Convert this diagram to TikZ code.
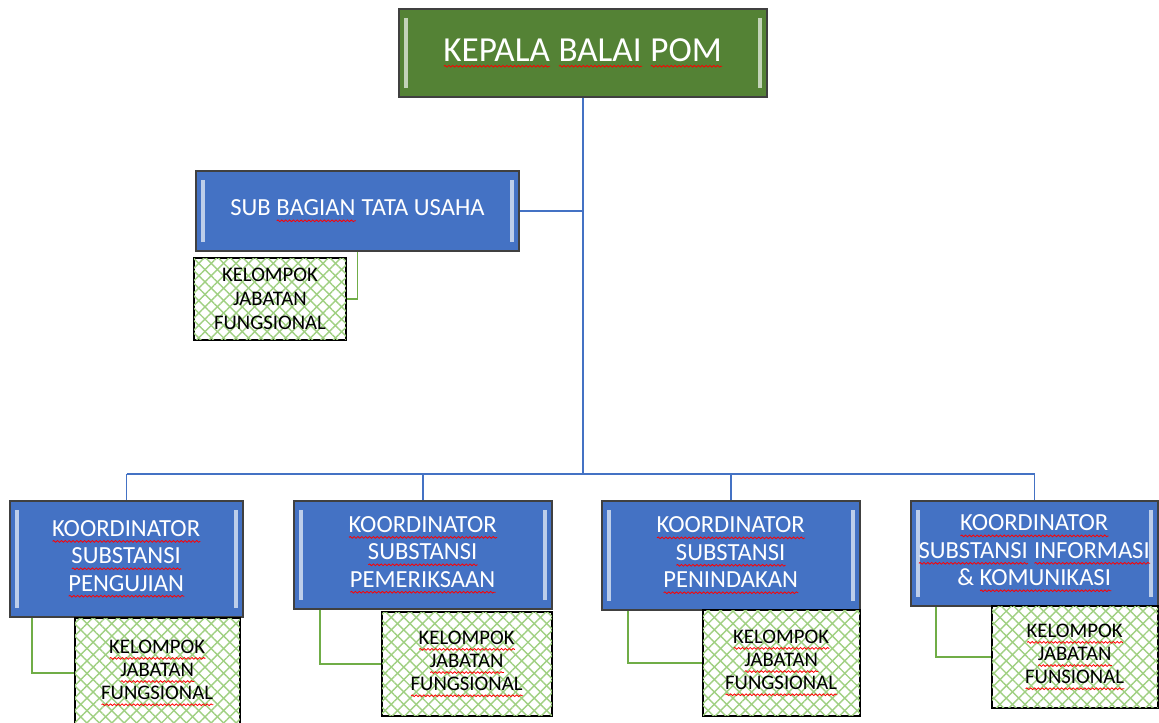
\documentclass[tikz,border=0pt]{standalone}
\usepackage{fontspec}
\setmainfont{Carlito}
\usepackage{tikz}
\usetikzlibrary{positioning,patterns.meta,calc,decorations.pathmorphing}

\definecolor{headgreen}{RGB}{84,130,53}
\definecolor{boxblue}{RGB}{68,114,196}
\definecolor{lineblue}{RGB}{68,114,196}
\definecolor{linegreen}{RGB}{112,173,71}
\definecolor{hatchgreen}{RGB}{160,208,130}

% red wavy spell-check underline
\newlength{\spellw}
\newcommand{\spell}[1]{\settowidth{\spellw}{#1}\leavevmode\rlap{#1}%
  \tikz[baseline=2.8pt]\draw[red, line width=0.45pt, decorate,
    decoration={snake,amplitude=0.5pt,segment length=2.2pt}] (0,0) -- (\spellw,0);}

\tikzset{
  box/.style={draw=black!75, line width=0.9pt, fill=#1, text=white, align=center, inner sep=0pt,
    path picture={
      \draw[line width=1.8pt, #1!35!white]
        ([xshift=4pt,yshift=5pt]path picture bounding box.south west) --
        ([xshift=4pt,yshift=-5pt]path picture bounding box.north west);
      \draw[line width=1.8pt, #1!35!white]
        ([xshift=-4pt,yshift=5pt]path picture bounding box.south east) --
        ([xshift=-4pt,yshift=-5pt]path picture bounding box.north east);
    }},
  kjf/.style={draw=black, line width=0.9pt, fill=white, text=black, align=center, inner sep=0pt,
    font=\fontsize{11.8}{13.2}\selectfont,
    postaction={pattern color=hatchgreen, pattern={Lines[angle=45,distance=5pt,line width=0.8pt]}},
    postaction={pattern color=hatchgreen, pattern={Lines[angle=-45,distance=5pt,line width=0.8pt]}}},
  koor/.style={box=boxblue, font=\fontsize{14}{15.6}\selectfont},
  blueline/.style={draw=lineblue, line width=1.1pt},
  greenline/.style={draw=linegreen, line width=1.1pt}
}

\begin{document}
\begin{tikzpicture}[x=0.02cm,y=-0.02cm]
	\useasboundingbox (0,0) rectangle (1159,723);
	%Nodes
	\node[box=headgreen, font=\fontsize{20}{24}\selectfont, minimum width=7.36cm, minimum height=1.76cm]
		(K) at (583,53) {\spell{KEPALA} \spell{BALAI} \spell{POM}};
	\node[box=boxblue, font=\fontsize{14}{16}\selectfont, minimum width=6.46cm, minimum height=1.60cm]
		(TU) at (357.5,211) {SUB \spell{BAGIAN} TATA USAHA};
	\node[kjf, minimum width=3.04cm, minimum height=1.64cm, font=\fontsize{11.8}{13.6}\selectfont]
		(J0) at (270,299) {KELOMPOK\\JABATAN\\FUNGSIONAL};
	\coordinate (bus) at (583,474);

	\node[koor, minimum width=4.66cm, minimum height=2.32cm] (S1) at (126.5,559)
		{\spell{KOORDINATOR}\\\spell{SUBSTANSI}\\\spell{PENGUJIAN}};
	\node[koor, minimum width=5.16cm, minimum height=2.16cm] (S2) at (423,555)
		{\spell{KOORDINATOR}\\\spell{SUBSTANSI}\\\spell{PEMERIKSAAN}};
	\node[koor, minimum width=5.16cm, minimum height=2.18cm] (S3) at (731,555.5)
		{\spell{KOORDINATOR}\\\spell{SUBSTANSI}\\\spell{PENINDAKAN}};
	\node[koor, minimum width=4.94cm, minimum height=2.10cm] (S4) at (1034.5,553.5)
		{\spell{KOORDINATOR}\\\spell{SUBSTANSI} \spell{INFORMASI}\\\& \spell{KOMUNIKASI}};

	\node[kjf, minimum width=3.30cm, minimum height=2.20cm] (J1) at (157.5,673)
		{\spell{KELOMPOK}\\\spell{JABATAN}\\\spell{FUNGSIONAL}};
	\node[kjf, minimum width=3.40cm, minimum height=2.08cm] (J2) at (467,664)
		{\spell{KELOMPOK}\\\spell{JABATAN}\\\spell{FUNGSIONAL}};
	\node[kjf, minimum width=3.14cm, minimum height=2.12cm] (J3) at (781.5,663)
		{\spell{KELOMPOK}\\\spell{JABATAN}\\\spell{FUNGSIONAL}};
	\node[kjf, minimum width=3.32cm, minimum height=2.04cm] (J4) at (1075,657)
		{\spell{KELOMPOK}\\\spell{JABATAN}\\\spell{FUNSIONAL}};

	%Blue lines
	\draw[blueline]
		(K.south) -- (bus)
		(TU.east) -- (TU.east -| bus)
		(S1.north |- bus) -- (S4.north |- bus)
		(S1.north |- bus) -- (S1.north)
		(S2.north |- bus) -- (S2.north)
		(S3.north |- bus) -- (S3.north)
		(S4.north |- bus) -- (S4.north)
	;
	%Green lines
	\draw[greenline]
		(TU.south) |- (J0.east)
		([xshift=0.46cm]S1.south west) |- (J1.west)
		([xshift=0.54cm]S2.south west) |- (J2.west)
		([xshift=0.54cm]S3.south west) |- (J3.west)
		([xshift=0.52cm]S4.south west) |- (J4.west)
	;
\end{tikzpicture}
\end{document}
